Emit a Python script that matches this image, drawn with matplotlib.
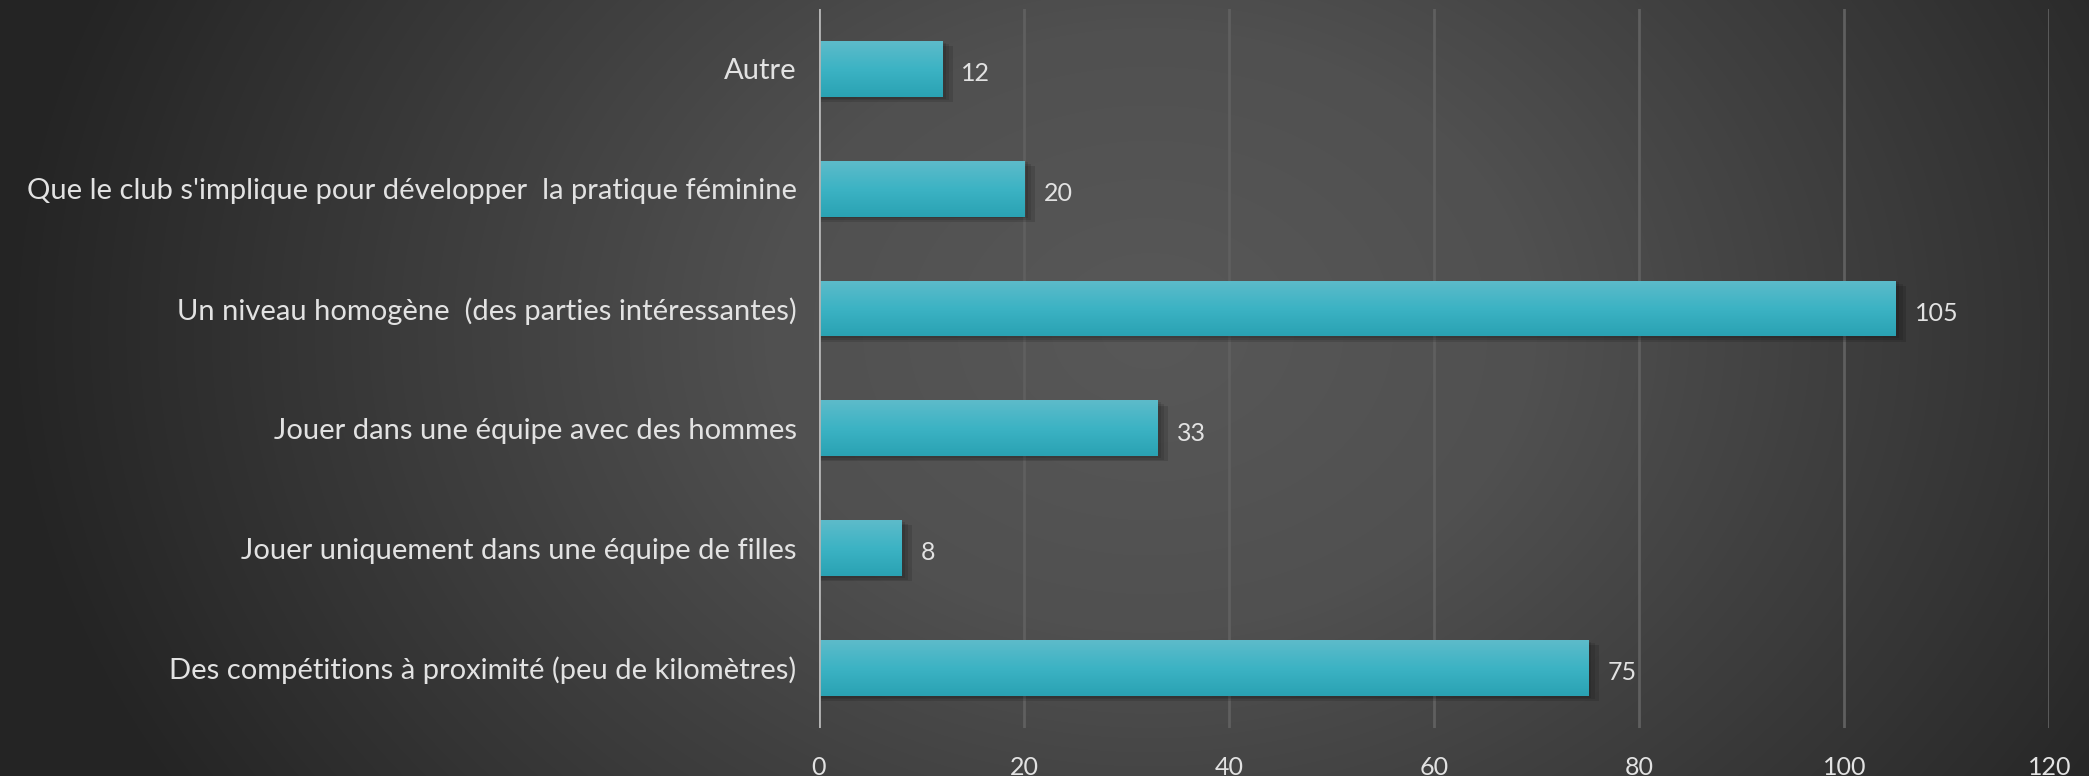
import numpy as np
import matplotlib.pyplot as plt
from matplotlib.colors import LinearSegmentedColormap

# ── data ─────────────────────────────────────────────────────
categories = [
    "Des compétitions à proximité (peu de kilomètres)",
    "Jouer uniquement dans une équipe de filles",
    "Jouer dans une équipe avec des hommes",
    "Un niveau homogène  (des parties intéressantes)",
    "Que le club s'implique pour développer  la pratique féminine",
    "Autre",
]
values = [75, 8, 33, 105, 20, 12]
xticks = [0, 20, 40, 60, 80, 100, 120]

plt.rcParams["font.family"] = ["Lato", "DejaVu Sans"]
txt = "#e2e2e2"

fig = plt.figure(figsize=(20.89, 7.76), dpi=100)

# ── radial gradient background ──────────────────────────────
bg = fig.add_axes([0, 0, 1, 1], zorder=0)
yy, xx = np.mgrid[0:776, 0:2089]
r = np.sqrt(((xx - 1150) / 1150.0) ** 2 + ((yy - 330) / 900.0) ** 2)
r = np.clip(r, 0, 1)
bg_cmap = LinearSegmentedColormap.from_list("bg", ["#585858", "#505050", "#3a3a3a", "#242424"])
bg.imshow(r, cmap=bg_cmap, vmin=0, vmax=1, aspect="auto", interpolation="bilinear")
bg.set_axis_off()

# ── chart axes ───────────────────────────────────────────────
ax = fig.add_axes([0.392, 0.062, 0.589, 0.9265], zorder=1)
ax.patch.set_alpha(0)
ypos = np.arange(len(categories))
h = 0.467

# shadow (a few soft layers)
for k, a in enumerate([0.10, 0.10, 0.12]):
    d = 0.012 * (k + 1)
    ax.barh(ypos - d * 1.2, np.array(values) + 0.35 * (k + 1), height=h, left=0,
            color="black", alpha=a, zorder=2, linewidth=0)

bars = ax.barh(ypos, values, height=h, color="#3db4c4", zorder=3, linewidth=0)

grad = np.linspace(0, 1, 100).reshape(-1, 1)
bar_cmap = LinearSegmentedColormap.from_list("bar", ["#5dbbca", "#3cb3c4", "#2aa2b3"])
for b in bars:
    x0, y0 = b.get_x(), b.get_y()
    w, hh = b.get_width(), b.get_height()
    im = ax.imshow(grad, cmap=bar_cmap, aspect="auto", extent=(x0, x0 + w, y0, y0 + hh),
                   zorder=4, interpolation="bilinear")
    im.set_clip_path(b)

for yv, v in zip(ypos, values):
    ax.text(v + 1.9, yv - 0.04, str(v), va="center", ha="left", fontsize=18, color=txt, zorder=5)

ax.set_xlim(0, 120)
ax.set_ylim(-0.5, 5.5)
ax.set_xticks(xticks)
ax.set_xticklabels([str(t) for t in xticks], fontsize=18, color=txt)
ax.set_yticks(ypos)
ax.set_yticklabels(categories, fontsize=21, color=txt)
ax.tick_params(axis="both", length=0)
ax.tick_params(axis="x", pad=20)
ax.tick_params(axis="y", pad=16)

ax.grid(axis="x", color="#5f5f5f", linewidth=2, zorder=1)
ax.set_axisbelow(True)
for s in ax.spines.values():
    s.set_visible(False)
ax.axvline(0, color="#b4b4b4", linewidth=2, zorder=6)

fig.savefig("out.png", dpi=100)
